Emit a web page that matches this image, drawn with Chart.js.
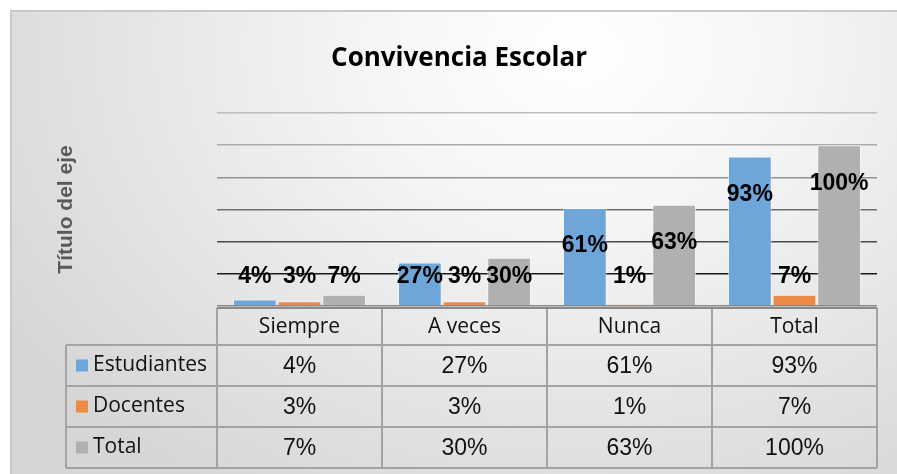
<!DOCTYPE html>
<html>
<head>
<meta charset="utf-8">
<script src="https://cdn.jsdelivr.net/npm/chart.js@4/dist/chart.umd.min.js"></script>
<style>
  html, body { margin: 0; padding: 0; width: 897px; height: 474px; background: #ffffff; overflow: hidden; }
  #frame {
    position: absolute; left: 10px; top: 10px; width: 900px; height: 480px;
    border-top: 2px solid #c8c8c8; border-left: 2px solid #c8c8c8; box-sizing: border-box;
    background: radial-gradient(ellipse 75% 110% at 63% 8%, #ffffff 0%, #f6f6f6 30%, #e6e6e6 65%, #d6d6d6 100%);
  }
  #wrap { position: absolute; left: 0; top: 0; width: 897px; height: 474px; }
</style>
</head>
<body>
<div id="frame"></div>
<div id="wrap"><canvas id="c" width="897" height="474"></canvas></div>
<script>
const categories = ["Siempre", "A veces", "Nunca", "Total"];
const estudiantes = [0.04, 0.27, 0.61, 0.93];
const docentes = [0.03, 0.03, 0.01, 0.07];
const totales = [0.07, 0.30, 0.63, 1.00];
const seriesNames = ["Estudiantes", "Docentes", "Total"];
const seriesColors = ["#6ea6da", "#ee8a48", "#b0b0b0"];
const chartTitle = "Convivencia Escolar";
const axisTitle = "Título del eje";

const pct = v => Math.round(v * 100) + "%";

const labelPlugin = {
  id: "barLabels",
  afterDatasetsDraw(chart) {
    const ctx = chart.ctx;
    const base = chart.scales.y.getPixelForValue(0);
    ctx.save();
    ctx.font = "bold 23px 'Liberation Sans', Arial, sans-serif";
    ctx.fillStyle = "#000";
    ctx.textAlign = "center";
    ctx.textBaseline = "middle";
    chart.data.datasets.forEach((ds, di) => {
      chart.getDatasetMeta(di).data.forEach((bar, i) => {
        const y = Math.min(bar.y + 38, base - 29);
        ctx.fillText(pct(ds.data[i]), bar.x, y);
      });
    });
    ctx.restore();
  }
};

const tablePlugin = {
  id: "dataTable",
  afterDraw(chart) {
    const ctx = chart.ctx;
    const xs = chart.scales.x;
    const half = (xs.getPixelForValue(1) - xs.getPixelForValue(0)) / 2;
    const bounds = categories.map((c, i) => xs.getPixelForValue(i) - half);
    bounds.push(xs.getPixelForValue(categories.length - 1) + half);
    const legendLeft = 66;
    const rowTops = [308, 345, 386, 427, 468];
    ctx.save();
    ctx.strokeStyle = "#a3a3a3";
    ctx.lineWidth = 2;
    ctx.beginPath();
    bounds.forEach(x => { ctx.moveTo(x, rowTops[0]); ctx.lineTo(x, rowTops[4]); });
    ctx.moveTo(legendLeft, rowTops[1]); ctx.lineTo(legendLeft, rowTops[4]);
    for (let r = 1; r < rowTops.length; r++) {
      ctx.moveTo(legendLeft, rowTops[r]); ctx.lineTo(bounds[bounds.length - 1], rowTops[r]);
    }
    ctx.stroke();
    ctx.strokeStyle = "#8a8a8a";
    ctx.beginPath();
    ctx.moveTo(bounds[0], rowTops[0]); ctx.lineTo(bounds[bounds.length - 1], rowTops[0]);
    ctx.stroke();
    ctx.fillStyle = "#111";
    ctx.textAlign = "center";
    ctx.textBaseline = "middle";
    ctx.font = "21px 'Open Sans', sans-serif";
    categories.forEach((c, i) => ctx.fillText(c, xs.getPixelForValue(i), (rowTops[0] + rowTops[1]) / 2 + 1));
    chart.data.datasets.forEach((ds, di) => {
      const yc = (rowTops[di + 1] + rowTops[di + 2]) / 2;
      ctx.fillStyle = seriesColors[di];
      ctx.fillRect(76, yc - 6, 12, 12);
      ctx.fillStyle = "#111";
      ctx.textAlign = "left";
      ctx.font = "21px 'Open Sans', sans-serif";
      ctx.fillText(ds.label, 93, yc);
      ctx.textAlign = "center";
      ctx.font = "23px 'Liberation Sans', Arial, sans-serif";
      ds.data.forEach((v, i) => ctx.fillText(pct(v), xs.getPixelForValue(i), yc + 1));
    });
    ctx.restore();
  }
};

const gridColors = { 0: "#8a8a8a", 20: "#1a1a1a", 40: "#4a4a4a", 60: "#6e6e6e", 80: "#929292", 100: "#ababab", 120: "#bdbdbd" };

new Chart(document.getElementById("c"), {
  type: "bar",
  data: {
    labels: categories,
    datasets: [
      { label: seriesNames[0], data: estudiantes, backgroundColor: seriesColors[0] },
      { label: seriesNames[1], data: docentes, backgroundColor: seriesColors[1] },
      { label: seriesNames[2], data: totales, backgroundColor: seriesColors[2] }
    ]
  },
  options: {
    responsive: false,
    animation: false,
    devicePixelRatio: 1,
    layout: { padding: { left: 41, right: 20, top: 0, bottom: 168 } },
    datasets: {
      bar: {
        categoryPercentage: 0.812,
        barPercentage: 0.98,
        borderWidth: 1,
        borderColor: "rgba(255,255,255,0.55)"
      }
    },
    plugins: {
      legend: { display: false },
      tooltip: { enabled: false },
      title: {
        display: true,
        text: chartTitle,
        color: "#000",
        font: { family: "'Open Sans', sans-serif", size: 26, weight: "bold", lineHeight: 1.2 },
        padding: { top: 43, bottom: 38.8 }
      }
    },
    scales: {
      x: { display: false },
      y: {
        z: 1,
        min: 0,
        max: 1.2,
        ticks: { display: false, stepSize: 0.2 },
        border: { display: false },
        grid: {
          drawTicks: false,
          lineWidth: 1.6,
          color: c => gridColors[Math.round(c.tick.value * 100)] || "#aaa"
        },
        title: {
          display: true,
          text: axisTitle,
          color: "#595959",
          font: { family: "'Liberation Sans', Arial, sans-serif", size: 21, weight: "bold", lineHeight: 1.2 },
          padding: { top: 12.4, bottom: 138.4 }
        }
      }
    }
  },
  plugins: [labelPlugin, tablePlugin]
});
</script>
</body>
</html>
